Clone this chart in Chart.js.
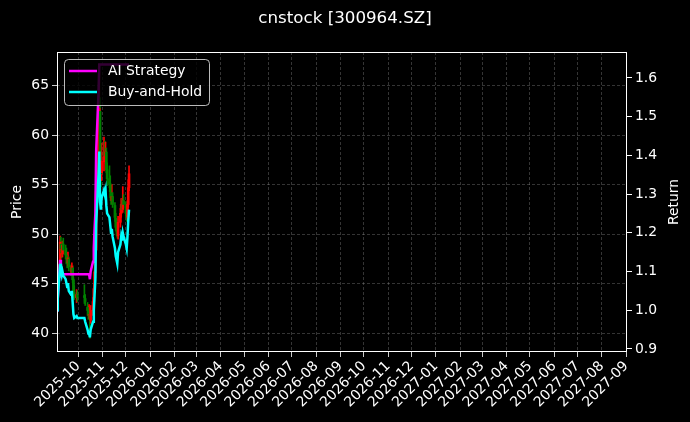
<!DOCTYPE html>
<html>
<head>
<meta charset="utf-8">
<script src="https://cdn.jsdelivr.net/npm/chart.js@4.4.1/dist/chart.umd.min.js"></script>
<style>
  html, body { margin: 0; padding: 0; background: #000; }
  canvas { display: block; }
</style>
</head>
<body>
<canvas id="myChart" width="690" height="422"></canvas>
<script>
const chartTitle = "cnstock [300964.SZ]";

// trading days
const dates = [
  '2025-09-04','2025-09-05','2025-09-08','2025-09-09','2025-09-10','2025-09-11','2025-09-12','2025-09-15','2025-09-16','2025-09-17',
  '2025-09-18','2025-09-19','2025-09-22','2025-09-23','2025-09-24','2025-09-25','2025-09-26','2025-09-29','2025-09-30',
  '2025-10-09','2025-10-10','2025-10-13','2025-10-14','2025-10-15','2025-10-16','2025-10-17','2025-10-20','2025-10-21','2025-10-22',
  '2025-10-23','2025-10-24','2025-10-27','2025-10-28','2025-10-29','2025-10-30','2025-10-31',
  '2025-11-03','2025-11-04','2025-11-05','2025-11-06','2025-11-07','2025-11-10','2025-11-11','2025-11-12','2025-11-13','2025-11-14',
  '2025-11-17','2025-11-18','2025-11-19','2025-11-20','2025-11-21','2025-11-24','2025-11-25','2025-11-26','2025-11-27','2025-11-28',
  '2025-12-01','2025-12-02','2025-12-03','2025-12-04','2025-12-05'
];

const open = [
  43.8,44.6,46.0,49.0,48.4,48.0,49.0,48.4,47.9,47.5,47.1,47.5,46.6,46.1,46.6,45.4,44.1,43.6,43.9,
  43.8,43.5,42.6,42.3,41.8,41.9,41.3,42.3,43.2,44.5,46.1,48.4,54.7,60.3,62.4,56.8,56.2,
  57.3,58.3,57.8,58.3,56.5,55.6,55.1,54.2,53.4,53.8,52.9,51.6,50.7,50.4,49.8,51.2,52.1,53.0,52.5,53.4,
  52.9,52.0,51.7,53.0,54.7
];
const high = [
  45.5,46.9,49.8,49.7,48.9,49.3,49.6,48.9,48.6,47.9,48.2,47.7,46.9,47.1,46.8,45.6,44.8,44.4,44.3,
  44.9,43.9,43.1,42.7,42.9,42.2,42.8,43.6,44.9,46.7,48.6,57.7,63.9,66.3,63.8,58.9,59.2,
  59.8,59.4,59.3,58.7,57.2,56.9,55.9,54.8,55.0,54.2,53.2,52.1,51.5,51.2,51.8,52.6,53.6,53.5,54.8,54.0,
  53.3,52.4,53.4,55.5,56.9
];
const low = [
  43.0,44.2,45.6,47.9,47.6,47.7,48.0,47.5,47.0,46.6,46.8,46.3,45.8,45.9,45.1,43.8,43.4,43.1,43.2,
  43.0,42.8,41.8,41.4,41.5,39.5,41.0,41.8,42.9,44.1,45.6,48.1,54.0,58.9,56.2,54.8,55.4,
  56.4,57.3,57.1,56.2,54.9,54.7,53.7,53.0,53.1,52.7,51.3,50.4,49.9,49.6,49.5,50.7,51.7,52.2,52.2,52.7,
  51.8,51.3,51.5,52.7,54.4
];
const close = [
  44.5,45.8,49.2,48.5,48.1,48.9,48.4,47.9,47.5,47.1,47.6,46.7,46.2,46.8,45.4,44.1,43.6,43.9,43.6,
  43.6,43.2,42.3,41.8,41.9,41.4,42.3,43.2,44.5,46.2,48.1,54.3,60.1,62.7,57.0,56.1,57.4,
  58.3,57.9,58.3,56.5,55.6,55.1,54.3,53.4,53.8,53.0,51.7,50.7,50.3,49.8,51.2,52.1,53.0,52.5,53.4,53.0,
  52.1,51.7,53.0,54.7,56.1
];

const aiStrategy = [
  1.00,1.03,1.13,1.10,1.093,1.093,1.093,1.093,1.093,1.093,1.093,1.093,1.093,1.093,1.093,1.093,1.093,1.093,1.093,
  1.093,1.093,1.093,1.093,1.093,1.08,1.10,1.125,1.16,1.21,1.25,1.41,1.56,1.635,1.635,1.635,1.635,
  1.635,1.635,1.635,1.635,1.635,1.635,1.635,1.635,1.635,1.635,1.635,1.635,1.635,1.635,1.635,1.635,1.635,1.635,1.635,1.635,
  1.635,1.635,1.635,1.635,1.635
];
const buyHold = [
  1.00,1.03,1.12,1.10,1.09,1.10,1.09,1.08,1.07,1.06,1.07,1.05,1.04,1.05,1.02,0.99,0.98,0.985,0.98,
  0.98,0.97,0.95,0.94,0.94,0.93,0.95,0.97,1.00,1.04,1.08,1.22,1.35,1.41,1.28,1.26,1.29,
  1.31,1.30,1.31,1.27,1.25,1.24,1.22,1.20,1.21,1.19,1.16,1.14,1.13,1.12,1.15,1.17,1.19,1.18,1.20,1.19,
  1.17,1.16,1.19,1.23,1.26
];

const monthTicks = [
  '2025-10','2025-11','2025-12','2026-01','2026-02','2026-03','2026-04','2026-05','2026-06','2026-07','2026-08','2026-09',
  '2026-10','2026-11','2026-12','2027-01','2027-02','2027-03','2027-04','2027-05','2027-06','2027-07','2027-08','2027-09'
];
const priceTicks = [40, 45, 50, 55, 60, 65];
const returnTicks = [0.9, 1.0, 1.1, 1.2, 1.3, 1.4, 1.5, 1.6];
const xRange = ['2025-09-04', '2027-09-02'];
const priceRange = [38.1, 68.4];
const returnRange = [0.892, 1.667];

// date string -> day number
function dayNum(s) {
  const p = s.split('-').map(Number);
  return Date.UTC(p[0], p[1] - 1, p[2] || 1) / 86400000;
}

const upColor = '#ff0000';
const downColor = '#008000';
const gridColor = 'rgba(190,190,190,0.35)';
const candleColors = dates.map((d, i) => close[i] >= open[i] ? upColor : downColor);

const decor = {
  id: 'decor',
  beforeDraw(chart) {
    const ctx = chart.ctx;
    ctx.save();
    ctx.fillStyle = '#000';
    ctx.fillRect(0, 0, chart.width, chart.height);
    ctx.restore();
  },
  afterDraw(chart) {
    const ctx = chart.ctx;
    const a = chart.chartArea;
    ctx.save();
    // frame
    ctx.strokeStyle = '#fff';
    ctx.lineWidth = 1;
    ctx.strokeRect(Math.round(a.left) + 0.5, Math.round(a.top) + 0.5, Math.round(a.right - a.left) - 1, Math.round(a.bottom - a.top) - 1);

    // legend
    const bx = a.left + 7, by = a.top + 7, bw = 145, bh = 46;
    ctx.beginPath();
    ctx.roundRect(bx + 0.5, by + 0.5, bw, bh, 4);
    ctx.fillStyle = 'rgba(0,0,0,0.8)';
    ctx.fill();
    ctx.strokeStyle = 'rgba(220,220,220,0.85)';
    ctx.stroke();
    ctx.font = '13.9px "DejaVu Sans"';
    ctx.textBaseline = 'middle';
    ctx.textAlign = 'left';
    const items = chart.data.datasets.filter(ds => ds.type === 'line');
    items.forEach((ds, i) => {
      const y = by + 12 + i * 21;
      ctx.strokeStyle = ds.borderColor;
      ctx.lineWidth = 2.5;
      ctx.beginPath();
      ctx.moveTo(bx + 5, y);
      ctx.lineTo(bx + 33, y);
      ctx.stroke();
      ctx.fillStyle = '#fff';
      ctx.fillText(ds.label, bx + 44, y);
    });

    // title
    ctx.fillStyle = '#fff';
    ctx.textAlign = 'center';
    ctx.font = '16.7px "DejaVu Sans"';
    ctx.fillText(chartTitle, chart.width / 2, 19);

    // axis titles
    ctx.font = '13.9px "DejaVu Sans"';
    const midY = (a.top + a.bottom) / 2;
    ctx.save();
    ctx.translate(17, midY);
    ctx.rotate(-Math.PI / 2);
    ctx.fillText('Price', 0, 0);
    ctx.restore();
    ctx.save();
    ctx.translate(674, midY);
    ctx.rotate(-Math.PI / 2);
    ctx.fillText('Return', 0, 0);
    ctx.restore();
    ctx.restore();
  }
};

Chart.defaults.font.family = '"DejaVu Sans"';
Chart.defaults.color = '#fff';

new Chart("myChart", {
  type: 'bar',
  data: {
    datasets: [
      {
        type: 'line',
        label: 'AI Strategy',
        data: dates.map((d, i) => ({ x: dayNum(d), y: aiStrategy[i] })),
        yAxisID: 'y1',
        borderColor: '#ff00ff',
        borderWidth: 2.5,
        pointRadius: 0,
        tension: 0,
        order: 1
      },
      {
        type: 'line',
        label: 'Buy-and-Hold',
        data: dates.map((d, i) => ({ x: dayNum(d), y: buyHold[i] })),
        yAxisID: 'y1',
        borderColor: '#00ffff',
        borderWidth: 2.5,
        pointRadius: 0,
        tension: 0,
        order: 0
      },
      {
        label: 'wick',
        data: dates.map((d, i) => ({ x: dayNum(d), y: [low[i], high[i]] })),
        yAxisID: 'y',
        backgroundColor: candleColors,
        barThickness: 1,
        grouped: false,
        borderWidth: 0,
        order: 3
      },
      {
        label: 'body',
        data: dates.map((d, i) => ({ x: dayNum(d), y: [open[i], close[i]] })),
        yAxisID: 'y',
        backgroundColor: candleColors,
        barThickness: 2,
        grouped: false,
        borderWidth: 0,
        order: 2
      }
    ]
  },
  options: {
    responsive: false,
    animation: false,
    devicePixelRatio: 1,
    layout: { padding: { top: 52, left: 0, right: 0, bottom: 0 } },
    plugins: {
      legend: { display: false },
      title: { display: false },
      tooltip: { enabled: false }
    },
    scales: {
      x: {
        type: 'linear',
        min: dayNum(xRange[0]),
        max: dayNum(xRange[1]),
        offset: false,
        afterBuildTicks: s => { s.ticks = monthTicks.map(m => ({ value: dayNum(m) })); },
        afterFit: s => { s.height = 70; },
        grid: { color: gridColor, lineWidth: 0.8, tickColor: '#fff', tickLength: 5, offset: false },
        border: { display: false, dash: [3, 2] },
        ticks: {
          color: '#fff',
          autoSkip: false,
          maxRotation: 45,
          minRotation: 45,
          padding: 1,
          font: { size: 13.9 },
          callback: (v, i) => monthTicks[i]
        }
      },
      y: {
        position: 'left',
        min: priceRange[0],
        max: priceRange[1],
        afterBuildTicks: s => { s.ticks = priceTicks.map(v => ({ value: v })); },
        afterFit: s => { s.width = 57; },
        grid: { color: gridColor, lineWidth: 0.8, tickColor: '#fff', tickLength: 5 },
        border: { display: false, dash: [3, 2] },
        ticks: { color: '#fff', padding: 3, font: { size: 13.9 }, callback: v => String(v) }
      },
      y1: {
        position: 'right',
        min: returnRange[0],
        max: returnRange[1],
        afterBuildTicks: s => { s.ticks = returnTicks.map(v => ({ value: v })); },
        afterFit: s => { s.width = 63; },
        grid: { drawOnChartArea: false, tickColor: '#fff', tickLength: 5 },
        border: { display: false },
        ticks: { color: '#fff', padding: 3, font: { size: 13.9 }, callback: v => v.toFixed(1) }
      }
    }
  },
  plugins: [decor]
});
</script>
</body>
</html>
